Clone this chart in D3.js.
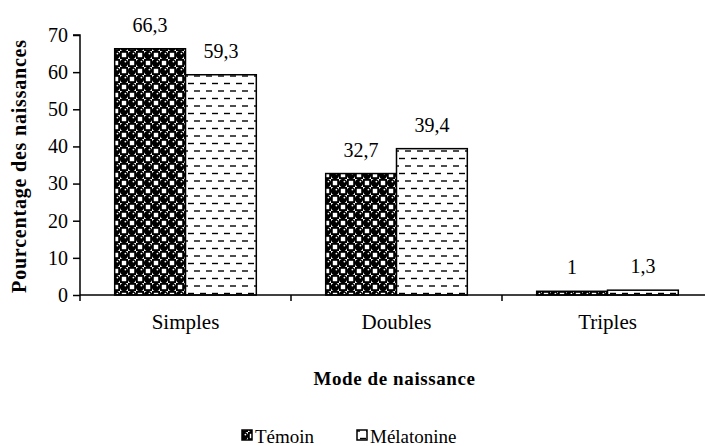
<!DOCTYPE html>
<html>
<head>
<meta charset="utf-8">
<script src="https://cdn.jsdelivr.net/npm/d3@7"></script>
<style>
  body { margin: 0; background: #fff; }
  svg text { font-family: "Liberation Serif", "Times New Roman", serif; fill: #000; }
</style>
</head>
<body>
<svg id="chart"></svg>
<script>
const categories = ['Simples', 'Doubles', 'Triples'];
const series = ['Témoin', 'Mélatonine'];
const temoin = [66.3, 32.7, 1];
const melatonine = [59.3, 39.4, 1.3];
const valueLabels = [['66,3', '32,7', '1'], ['59,3', '39,4', '1,3']];
const yTicks = [0, 10, 20, 30, 40, 50, 60, 70];

const width = 705;
const height = 446;
const margin = {top: 35, right: -8, bottom: 151, left: 80};
const serif = '"Liberation Serif", "Times New Roman", serif';

const svg = d3.select('#chart')
    .attr('width', width)
    .attr('height', height);

svg.append('rect').attr('width', width).attr('height', height).attr('fill', '#fff');

// fill patterns
const defs = svg.append('defs');

const dots = defs.append('pattern')
    .attr('id', 'pat-temoin')
    .attr('patternUnits', 'userSpaceOnUse')
    .attr('width', 16).attr('height', 16);
dots.append('rect').attr('width', 16).attr('height', 16).attr('fill', '#000');
[[8, 0], [0, 8]].forEach(([px, py]) => {
    dots.append('rect').attr('x', px + 1.8).attr('y', py + 1.8)
        .attr('width', 4.4).attr('height', 4.4).attr('fill', '#fff');
});
[[4, 4], [12, 12]].forEach(([cx, cy]) => {
    dots.append('rect').attr('x', cx - 4).attr('y', cy - 4)
        .attr('width', 8).attr('height', 8).attr('fill', '#fff');
    dots.append('circle').attr('cx', cx).attr('cy', cy).attr('r', 4.2).attr('fill', '#000');
    dots.append('circle').attr('cx', cx + 1.4).attr('cy', cy - 1.4).attr('r', 0.9).attr('fill', '#fff');
});

const dashes = defs.append('pattern')
    .attr('id', 'pat-melatonine')
    .attr('patternUnits', 'userSpaceOnUse')
    .attr('width', 12).attr('height', 15);
dashes.append('rect').attr('width', 12).attr('height', 15).attr('fill', '#fff');
dashes.append('line').attr('x1', 0).attr('x2', 6).attr('y1', 3.5).attr('y2', 3.5)
    .attr('stroke', '#000').attr('stroke-width', 1.4);
dashes.append('line').attr('x1', 6).attr('x2', 12).attr('y1', 11).attr('y2', 11)
    .attr('stroke', '#000').attr('stroke-width', 1.4);

const fills = ['url(#pat-temoin)', 'url(#pat-melatonine)'];

const plotW = width - margin.left - margin.right;
const plotH = height - margin.top - margin.bottom;

const x = d3.scaleBand()
    .domain(categories)
    .range([0, plotW]);

const xs = d3.scaleBand()
    .domain(series)
    .range([0, x.bandwidth()])
    .paddingOuter(0.49);

const y = d3.scaleLinear()
    .domain([0, 70])
    .range([plotH, 0]);

const g = svg.append('g')
    .attr('transform', `translate(${margin.left},${margin.top})`);

const data = categories.map((c, i) => ({
    category: c,
    values: [
        {key: series[0], value: temoin[i], label: valueLabels[0][i], fill: fills[0]},
        {key: series[1], value: melatonine[i], label: valueLabels[1][i], fill: fills[1]},
    ],
}));

// bars
const groups = g.selectAll('.group')
    .data(data)
    .join('g')
    .attr('class', 'group')
    .attr('transform', (d) => `translate(${x(d.category)},0)`);

groups.selectAll('rect')
    .data((d) => d.values)
    .join('rect')
    .attr('x', (d) => xs(d.key))
    .attr('y', (d) => y(d.value))
    .attr('width', xs.bandwidth())
    .attr('height', (d) => y(0) - y(d.value))
    .attr('fill', (d) => d.fill)
    .attr('stroke', '#000')
    .attr('stroke-width', 1.5);

groups.selectAll('.val')
    .data((d) => d.values)
    .join('text')
    .attr('class', 'val')
    .attr('x', (d) => xs(d.key) + xs.bandwidth() / 2)
    .attr('y', (d) => y(d.value) - 17)
    .attr('text-anchor', 'middle')
    .style('font-family', serif)
    .style('font-size', '20px')
    .text((d) => d.label);

// y axis
const yAxis = d3.axisLeft(y).tickValues(yTicks).tickSize(7).tickPadding(5);
const ya = g.append('g').attr('class', 'y-axis').call(yAxis);
ya.select('.domain').attr('stroke', '#000').attr('stroke-width', 1.5).attr('d', `M0,${plotH}V0H-7`);
ya.selectAll('line').attr('stroke-width', 1.5);
ya.selectAll('text').style('font-size', '20px').style('font-family', serif);

// x axis: line, boundary ticks and category labels
const xa = g.append('g').attr('class', 'x-axis').attr('transform', `translate(0,${plotH})`);
xa.append('line').attr('x1', 0).attr('x2', plotW).attr('stroke', '#000').attr('stroke-width', 1.5);
xa.selectAll('.tick-b')
    .data(categories)
    .join('line')
    .attr('class', 'tick-b')
    .attr('x1', (d) => x(d)).attr('x2', (d) => x(d))
    .attr('y1', 0).attr('y2', 6)
    .attr('stroke', '#000').attr('stroke-width', 1.5);
xa.selectAll('.lab')
    .data(categories)
    .join('text')
    .attr('class', 'lab')
    .attr('x', (d) => x(d) + x.bandwidth() / 2)
    .attr('y', 34)
    .attr('text-anchor', 'middle')
    .style('font-family', serif)
    .style('font-size', '21px')
    .text((d) => d);

// axis titles
svg.append('text')
    .attr('x', margin.left + x('Doubles') + x.bandwidth() / 2 - 2)
    .attr('y', 385)
    .attr('text-anchor', 'middle')
    .style('font-family', serif)
    .style('font-size', '19px')
    .style('font-weight', 'bold')
    .style('letter-spacing', '0.6px')
    .text('Mode de naissance');

svg.append('text')
    .attr('transform', 'translate(26,166) rotate(-90)')
    .attr('text-anchor', 'middle')
    .style('font-family', serif)
    .style('font-size', '20px')
    .style('font-weight', 'bold')
    .style('letter-spacing', '0.8px')
    .text('Pourcentage des naissances');

// legend
const legendX = [242, 357];
const legend = svg.append('g').attr('class', 'legend');
series.forEach((s, i) => {
    legend.append('rect')
        .attr('x', legendX[i]).attr('y', 430)
        .attr('width', 10).attr('height', 10)
        .attr('fill', fills[i])
        .attr('stroke', '#000').attr('stroke-width', 1.5);
    legend.append('text')
        .attr('x', legendX[i] + 13).attr('y', 443)
        .style('font-family', serif)
        .style('font-size', '19px')
        .text(s);
});
</script>
</body>
</html>
